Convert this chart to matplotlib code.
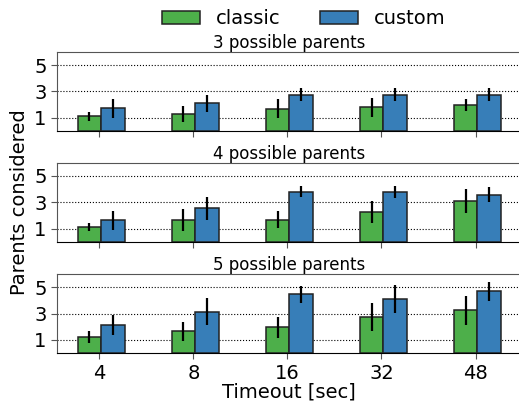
import numpy as np
import matplotlib
matplotlib.use("Agg")
import matplotlib.pyplot as plt

timeouts = ["4", "8", "16", "32", "48"]
panel_titles = ["3 possible parents", "4 possible parents", "5 possible parents"]

# mean / std of parents considered, one row per panel
classic_mean = [
    [1.10, 1.30, 1.68, 1.78, 1.98],
    [1.13, 1.63, 1.68, 2.28, 3.09],
    [1.23, 1.65, 1.95, 2.75, 3.25],
]
classic_std = [
    [0.33, 0.60, 0.70, 0.70, 0.47],
    [0.31, 0.84, 0.64, 0.84, 0.90],
    [0.45, 0.71, 0.79, 1.06, 1.08],
]
custom_mean = [
    [1.70, 2.10, 2.73, 2.73, 2.73],
    [1.65, 2.53, 3.82, 3.77, 3.57],
    [2.13, 3.15, 4.48, 4.10, 4.70],
]
custom_std = [
    [0.73, 0.65, 0.50, 0.50, 0.50],
    [0.72, 0.87, 0.42, 0.44, 0.58],
    [0.75, 1.03, 0.65, 1.05, 0.70],
]

green = "#4daf4a"
blue = "#377eb8"
width = 0.25

fig = plt.figure(figsize=(5.19, 4.05), dpi=100)
bottoms = [0.677, 0.403, 0.128]
x = np.arange(len(timeouts))
axes = []
for k, b in enumerate(bottoms):
    ax = fig.add_axes([57 / 519, b, 1.0 - 57 / 519 + 0.005, 0.195])
    axes.append(ax)
    ax.bar(x - 0.105, classic_mean[k], width, yerr=classic_std[k], color=green,
           edgecolor="#222222", linewidth=1.1, label="classic",
           error_kw=dict(elinewidth=1.6, ecolor="black", capsize=0), zorder=3)
    ax.bar(x + 0.145, custom_mean[k], width, yerr=custom_std[k], color=blue,
           edgecolor="#222222", linewidth=1.1, label="custom",
           error_kw=dict(elinewidth=1.6, ecolor="black", capsize=0), zorder=3)
    ax.set_ylim(0, 6)
    ax.set_xlim(-0.45, 4.49)
    ax.set_yticks([1, 3, 5])
    ax.set_xticks(x)
    ax.yaxis.grid(True, linestyle=":", color="black", linewidth=0.8, zorder=0)
    ax.set_axisbelow(True)
    ax.tick_params(labelsize=14, length=4, color="#555555")
    for s in ax.spines.values():
        s.set_color("#555555")
    ax.spines["bottom"].set_color("black")
    ax.set_title(panel_titles[k], fontsize=12, pad=3)
    if k < 2:
        ax.set_xticklabels([])
    else:
        ax.set_xticklabels(timeouts)

axes[2].set_xlabel("Timeout [sec]", fontsize=14, labelpad=0)
fig.text(0.037, 0.5, "Parents considered", rotation=90, fontsize=14,
         ha="center", va="center")
handles, labels = axes[0].get_legend_handles_labels()
fig.legend(handles, labels, loc="upper center", bbox_to_anchor=(0.585, 1.02),
           ncol=2, frameon=False, fontsize=14, columnspacing=2.0)

fig.savefig("out.png", dpi=100)
